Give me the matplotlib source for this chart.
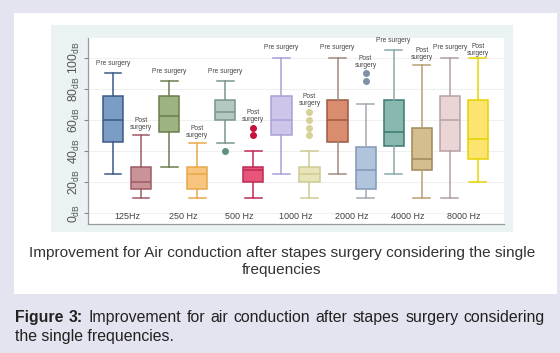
import matplotlib
matplotlib.use("Agg")
import matplotlib.pyplot as plt
from matplotlib.patches import Rectangle

plt.rcParams['font.family'] = ['Liberation Sans', 'DejaVu Sans']
plt.rcParams['mathtext.fontset'] = 'custom'
plt.rcParams['mathtext.rm'] = 'Liberation Sans'
plt.rcParams['mathtext.it'] = 'Liberation Sans'

# ---- data ----
frequencies = ["125Hz", "250 Hz", "500 Hz", "1000 Hz", "2000 Hz", "4000 Hz", "8000 Hz"]
groups = ["Pre surgery", "Post\nsurgery"]
whisker_low = [25, 10, 30, 10, 45, 10, 25, 10, 25, 10, 25, 10, 10, 20]
q1_values = [45.5, 15.5, 52, 15.5, 60, 20, 50, 20, 45.5, 15.5, 43, 27.5, 40, 35]
medians = [60, 20, 62.5, 25, 65, 27.5, 60, 25, 60, 27.5, 52, 35, 60, 48]
q3_values = [75.5, 30, 75.5, 30, 72.5, 30, 75.5, 30, 72.5, 42.5, 72.5, 55, 75.5, 72.5]
whisker_high = [90, 50, 85, 45, 85, 40, 100, 40, 100, 70, 105, 95, 100, 100]
outliers = [[], [], [], [], [40], [55, 50], [], [65, 60, 55, 50], [], [90, 85], [], [], [], []]
y_ticks = [0, 20, 40, 60, 80, 100]

fill_colors = ["#7b9cc4", "#c99498", "#9db382", "#f7c57e", "#b2c8c0", "#e8557a", "#cdc5ea",
               "#e8e5ba", "#d98c6e", "#b0c4dc", "#88b8b0", "#d4bd8e", "#ebd4d6", "#fbe570"]
edge_colors = ["#3a5a85", "#a05a66", "#6b7d4e", "#e8a84a", "#7a968e", "#c02a55", "#ad9fd5",
               "#cfcb95", "#9c5a45", "#8098b8", "#3a7a72", "#a08858", "#b8a2a6", "#e8d000"]
whisker_colors = ["#3a5a85", "#a05a66", "#6b7d4e", "#e8a84a", "#7a968e", "#c02a55", "#ad9fd5",
                  "#cfcb95", "#a08a80", "#a0a8b0", "#8aa8a8", "#b8a070", "#b0a0a0", "#e8d400"]
flier_colors = ["#3a5a85", "#a05a66", "#6b7d4e", "#e8a84a", "#5f9080", "#c8103c", "#ad9fd5",
                "#d6d197", "#9c5a45", "#8090a8", "#3a7a72", "#a08858", "#b8a2a6", "#e8d000"]

W, H = 560, 353
fig = plt.figure(figsize=(W / 100, H / 100), dpi=100)
fig.patch.set_facecolor("#e4e4f0")


def frect(x0, y0, x1, y1, color):
    fig.patches.append(Rectangle((x0 / W, 1 - y1 / H), (x1 - x0) / W, (y1 - y0) / H,
                                 transform=fig.transFigure, facecolor=color,
                                 edgecolor="none", zorder=-10))


frect(14, 13, 557, 294, "white")
frect(51, 25, 513, 232, "#eaf2f4")

ax = fig.add_axes([88 / W, 1 - 224 / H, (504 - 88) / W, (224 - 38) / H])
ax.set_zorder(5)
ax.set_facecolor("white")

stats = []
for i in range(len(medians)):
    stats.append(dict(whislo=whisker_low[i], q1=q1_values[i], med=medians[i],
                      q3=q3_values[i], whishi=whisker_high[i], fliers=outliers[i]))
positions = list(range(len(medians)))
bp = ax.bxp(stats, positions=positions, widths=0.72, patch_artist=True,
            showfliers=True, capwidths=0.6)
for i in range(len(medians)):
    bp['boxes'][i].set(facecolor=fill_colors[i], edgecolor=edge_colors[i], linewidth=1.1)
    bp['medians'][i].set(color=edge_colors[i], linewidth=1.1)
    for k in (2 * i, 2 * i + 1):
        bp['whiskers'][k].set(color=whisker_colors[i], linewidth=1.1)
        bp['caps'][k].set(color=whisker_colors[i], linewidth=1.1)
    bp['fliers'][i].set(marker='o', markerfacecolor=flier_colors[i],
                        markeredgecolor=flier_colors[i], markersize=4)

# group labels above each box
for i in range(len(medians)):
    top = max([whisker_high[i]] + outliers[i])
    label = groups[i % 2]
    off = 4.0 if i % 2 == 0 else 3.0
    if i == 13:
        off = 0.5
    ax.text(positions[i], top + off, label, ha='center', va='bottom', fontsize=4.8,
            color="#444444", linespacing=1.0, clip_on=False)

# frequency labels inside the plot
for j, f in enumerate(frequencies):
    ax.text(2 * j + 0.5, -1.8, f, ha='center', va='center', fontsize=6.5, color="#444444")

ax.set_xlim(-0.89, 13.93)
ax.set_ylim(-6.9, 112.6)
ax.set_xticks([])
ax.set_yticks(y_ticks)
ax.set_yticklabels([r'$\mathrm{%d}_{\mathrm{dB}}$' % v for v in y_ticks], rotation=90,
                   va='center', fontsize=8.8, color="#555555")
ax.tick_params(axis='y', length=3, color="#888888", pad=1.5)
for v in y_ticks:
    ax.axhline(v, color="#f0f0f0", linewidth=0.8, zorder=0)
for s in ("top", "right"):
    ax.spines[s].set_visible(False)
for s in ("left", "bottom"):
    ax.spines[s].set_color("#999999")
    ax.spines[s].set_linewidth(0.9)

# caption inside white panel
fig.text(282 / W, 1 - 253 / H,
         "Improvement for Air conduction after stapes surgery considering the single",
         ha='center', va='center', fontsize=11.1, color="#333333")
fig.text(282 / W, 1 - 270 / H, "frequencies", ha='center', va='center', fontsize=11.1,
         color="#333333")

# figure caption (justified first line)
fig.canvas.draw()
renderer = fig.canvas.get_renderer()
line1 = [("Figure", 'bold'), ("3:", 'bold')] + [(w, 'normal') for w in
         "Improvement for air conduction after stapes surgery considering".split()]
x_left, x_right = 15, 545
y1 = 1 - 322 / H
texts = []
total = 0
for w, wt in line1:
    t = fig.text(0, y1, w, fontsize=11.4, fontweight=wt, color="#222222",
                 va='baseline', ha='left')
    bb = t.get_window_extent(renderer)
    texts.append((t, bb.width))
    total += bb.width
gap = (x_right - x_left - total) / (len(texts) - 1)
x = x_left
for t, wd in texts:
    t.set_x(x / W)
    x += wd + gap
fig.text(x_left / W, 1 - 341 / H, "the single frequencies.", fontsize=11.4, color="#222222",
         va='baseline', ha='left')

fig.savefig("out.png", dpi=100, facecolor=fig.get_facecolor())
